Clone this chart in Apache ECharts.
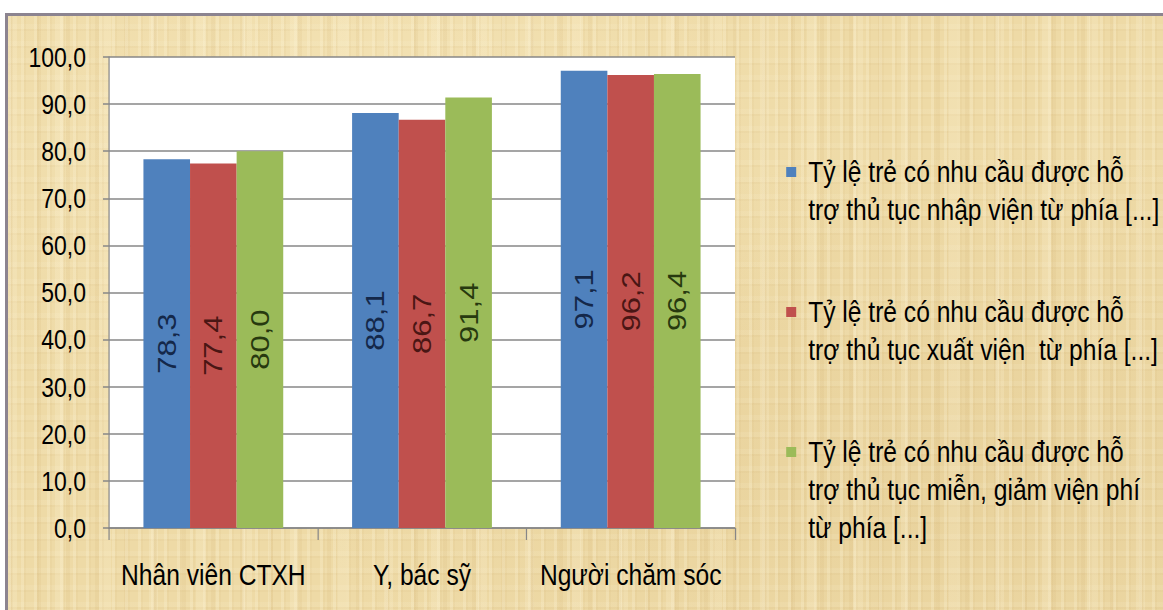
<!DOCTYPE html>
<html lang="vi">
<head>
<meta charset="utf-8">
<title>Nhu cầu hỗ trợ thủ tục</title>
<script src="https://cdn.jsdelivr.net/npm/echarts@6/dist/echarts.min.js"></script>
<style>
  html, body { margin: 0; padding: 0; background: #ffffff; }
  body { width: 1163px; height: 610px; position: relative; overflow: hidden; }
  /* parchment panel with a thin grey frame on the top and left edges */
  #panel {
    position: absolute; left: 5px; top: 13px; width: 1170px; height: 610px;
    border-top: 3px solid #8c8490; border-left: 3px solid #8c8490;
    background-color: #eedaa6;
    background-image:
      repeating-linear-gradient(90deg, rgba(255,248,222,0.22) 0 3px, rgba(200,165,100,0.08) 3px 5px, rgba(255,255,255,0) 5px 13px),
      repeating-linear-gradient(90deg, rgba(205,170,105,0.12) 0 4px, rgba(255,255,255,0) 4px 29px),
      repeating-linear-gradient(90deg, rgba(255,246,218,0.20) 0 9px, rgba(255,255,255,0) 9px 47px),
      repeating-linear-gradient(0deg, rgba(195,160,100,0.07) 0 2px, rgba(255,250,228,0.10) 2px 7px, rgba(255,255,255,0) 7px 17px),
      radial-gradient(ellipse at 30% 20%, rgba(255,244,210,0.35), rgba(255,255,255,0) 45%),
      radial-gradient(ellipse at 85% 75%, rgba(215,185,125,0.25), rgba(255,255,255,0) 50%);
  }
  /* the chart is laid out wider and then condensed horizontally */
  #chart {
    position: absolute; left: 0; top: 0; width: 1418px; height: 610px;
    transform: scaleX(0.82); transform-origin: 0 0;
  }
</style>
</head>
<body>
<div id="panel"></div>
<div id="chart"></div>
<script>
// Respondent groups on the category axis
const categories = ['Nhân viên CTXH', 'Y, bác sỹ', 'Người chăm sóc'];

// Series names (full legend texts) and their wrapped legend lines
const seriesNames = [
  'Tỷ lệ trẻ có nhu cầu được hỗ trợ thủ tục nhập viện từ phía [...]',
  'Tỷ lệ trẻ có nhu cầu được hỗ trợ thủ tục xuất viện  từ phía [...]',
  'Tỷ lệ trẻ có nhu cầu được hỗ trợ thủ tục miễn, giảm viện phí từ phía [...]'
];
const legendLines = [
  ['Tỷ lệ trẻ có nhu cầu được hỗ', 'trợ thủ tục nhập viện từ phía [...]'],
  ['Tỷ lệ trẻ có nhu cầu được hỗ', 'trợ thủ tục xuất viện  từ phía [...]'],
  ['Tỷ lệ trẻ có nhu cầu được hỗ', 'trợ thủ tục miễn, giảm viện phí', 'từ phía [...]']
];

// Percentages per group
const admissionValues = [78.3, 88.1, 97.1];
const dischargeValues = [77.4, 86.7, 96.2];
const feeReliefValues = [80.0, 91.4, 96.4];

// Value axis ticks
const yTicks = [0, 10, 20, 30, 40, 50, 60, 70, 80, 90, 100];

const SX = 0.82;                 // horizontal condensing of the chart box
const px = v => v / SX;          // screen-width pixels -> layout pixels
const chartWidth = 1418;

const barColors = ['#4f81bd', '#c0504d', '#9bbb59'];
const labelColors = ['#14284a', '#4a1614', '#27390f'];
const sansFont = "'Liberation Sans', Arial, sans-serif";
const gridGray = '#878787';

const fmt = v => Number(v).toFixed(1).replace('.', ',');

const seriesData = [admissionValues, dischargeValues, feeReliefValues];

const rich = {
  g: { width: px(12), lineHeight: 38 },
  p: { width: px(22), lineHeight: 38 },
  t: { fontFamily: sansFont, fontSize: 30, color: '#000000', lineHeight: 38 }
};
barColors.forEach((c, i) => {
  rich['m' + i] = { width: px(10), height: 10, backgroundColor: c, lineHeight: 38 };
});

const chart = echarts.init(document.getElementById('chart'), null, { renderer: 'svg' });

chart.setOption({
  backgroundColor: 'transparent',
  animation: false,
  grid: {
    left: px(109), right: chartWidth - px(735), top: 57, bottom: 82,
    show: true, backgroundColor: '#ffffff', borderWidth: 0
  },
  legend: {
    orient: 'vertical',
    left: px(778), top: 152,
    itemGap: 72,
    icon: 'none',
    itemWidth: 0, itemHeight: 0,
    selectedMode: false,
    data: seriesNames,
    formatter: name => {
      const i = seriesNames.indexOf(name);
      return legendLines[i].map((line, k) =>
        (k === 0 ? '{m' + i + '|}{g|}' : '{p|}') + '{t|' + line + '}'
      ).join('\n');
    },
    textStyle: { rich: rich }
  },
  xAxis: {
    type: 'category',
    data: categories,
    axisLine: { show: true, lineStyle: { color: gridGray, width: 1.5 } },
    axisTick: { show: true, length: 12, lineStyle: { color: gridGray, width: 1.5 } },
    axisLabel: { interval: 0, margin: 32, fontFamily: sansFont, fontSize: 30, color: '#000000' },
    splitLine: { show: false }
  },
  yAxis: {
    type: 'value',
    min: yTicks[0], max: yTicks[yTicks.length - 1], interval: yTicks[1] - yTicks[0],
    axisLine: { show: true, lineStyle: { color: gridGray, width: 1.5 } },
    axisTick: { show: true, length: px(6), lineStyle: { color: gridGray, width: 1.5 } },
    axisLabel: { margin: px(23), fontFamily: sansFont, fontSize: 28, color: '#000000', formatter: fmt },
    splitLine: { show: true, lineStyle: { color: gridGray, width: 1.5 } }
  },
  series: seriesData.map((vals, i) => ({
    name: seriesNames[i],
    type: 'bar',
    data: vals,
    barGap: '0%',
    barCategoryGap: '33%',
    itemStyle: { color: barColors[i] },
    label: {
      show: true,
      position: 'inside',
      rotate: 90,
      fontFamily: sansFont,
      fontSize: 31,
      color: labelColors[i],
      formatter: p => fmt(p.value)
    }
  }))
});
</script>
</body>
</html>
